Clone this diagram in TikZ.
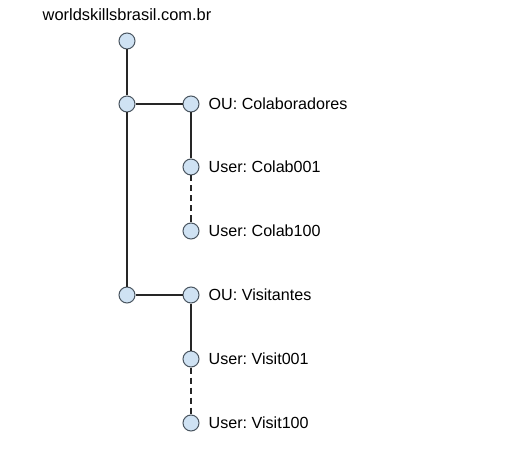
\documentclass[tikz,border=0pt]{standalone}
\usepackage{fontspec}
\setmainfont{Liberation Sans}
\usepackage{tikz}
\frenchspacing
\definecolor{ndfill}{HTML}{CFE2F3}
\definecolor{ndline}{HTML}{4A5560}
\tikzstyle{ad}=[circle, draw=ndline, fill=ndfill, line width=1bp, minimum size=16bp, inner sep=0pt]
\tikzstyle{lbl}=[right, inner sep=0pt, xshift=9bp, font=\fontsize{16.1bp}{18bp}\selectfont]
\tikzstyle{link}=[line width=1.6bp, black!85]
\tikzstyle{more}=[link, dash pattern=on 6bp off 4bp]

\begin{document}
\begin{tikzpicture}[x=1bp,y=-1bp]
\useasboundingbox (0,0) rectangle (510,473);
\node[font=\fontsize{16.4bp}{18bp}\selectfont, inner sep=0pt] (dom) at (127,15) {worldskillsbrasil.com.br};
\node[ad] (root) at (127,41) {};
\node[ad] (ja) at (127,104) {};
\node[ad] (jb) at (127,295) {};
\node[ad] (colab) at (191,104) {};
\node[ad] (colabA) at (191,167) {};
\node[ad] (colabZ) at (191,231) {};
\node[ad] (visit) at (191,295) {};
\node[ad] (visitA) at (191,359) {};
\node[ad] (visitZ) at (191,423) {};
\draw[link] (root) -- (ja);
\draw[link] (ja) -- (jb);
\draw[link] (ja) -- (colab);
\draw[link] (jb) -- (visit);
\draw[link] (colab) -- (colabA);
\draw[more] (colabA) -- (colabZ);
\draw[link] (visit) -- (visitA);
\draw[more] (visitA) -- (visitZ);
\node[lbl] at (colab.east) {OU: Colaboradores};
\node[lbl] at (colabA.east) {User: Colab001};
\node[lbl] at (colabZ.east) {User: Colab100};
\node[lbl] at (visit.east) {OU: Visitantes};
\node[lbl] at (visitA.east) {User: Visit001};
\node[lbl] at (visitZ.east) {User: Visit100};
\end{tikzpicture}
\end{document}
